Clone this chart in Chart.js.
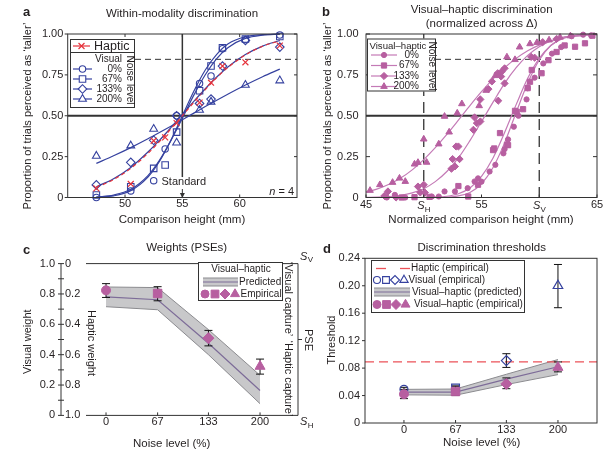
<!DOCTYPE html>
<html>
<head>
<meta charset="utf-8">
<script src="https://cdn.jsdelivr.net/npm/chart.js@4.4.1/dist/chart.umd.min.js"></script>
<style>
  html, body { margin: 0; padding: 0; background: #fff; }
  body { position: relative; width: 614px; height: 453px; overflow: hidden; }
  canvas { position: absolute; }
</style>
</head>
<body>
<canvas id="ca" width="307" height="226" style="left:0;top:0"></canvas>
<canvas id="cb" width="307" height="226" style="left:307px;top:0"></canvas>
<canvas id="cc" width="320" height="227" style="left:0;top:226px"></canvas>
<canvas id="cd" width="307" height="227" style="left:307px;top:226px"></canvas>
<script>
// ---- a: within-modality discrimination ----
const aHeights = [47.5, 50.5, 52.5, 53.5, 54.5, 56.5, 57.5, 58.5, 60.5, 63.5];
const aHaptic  = [0.056, 0.083, 0.347, 0.368, 0.455, 0.58, 0.702, 0.804, 0.827, 0.929];
const aVis0    = [0.0, 0.04, 0.103, 0.297, 0.50, 0.698, 0.743, 0.91, 0.965, 0.994];
const aVis67   = [0.015, 0.066, 0.178, 0.199, 0.40, 0.653, 0.804, 0.916, 0.969, 0.985];
const aVis133  = [0.077, 0.215, 0.35, null, 0.50, 0.575, 0.602, 0.804, 0.96, 0.92];
const aVis200  = [0.254, 0.317, 0.419, null, 0.335, 0.535, 0.585, null, 0.688, 0.715];
// fitted curves
const aFitX    = [47.5, 49, 50.5, 52, 53, 54, 55, 56, 57, 58, 59, 60.5, 62, 63.5];
const aFitHap  = [0.062, 0.11, 0.178, 0.27, 0.342, 0.42, 0.50, 0.582, 0.66, 0.733, 0.797, 0.872, 0.925, 0.958];
const aFitV0   = [0.002, 0.010, 0.042, 0.125, 0.22, 0.35, 0.5, 0.65, 0.78, 0.875, 0.94, 0.983, 0.996, 0.999];
const aFitV67  = [0.003, 0.015, 0.05, 0.134, 0.227, 0.348, 0.485, 0.626, 0.751, 0.85, 0.918, 0.973, 0.993, 0.999];
const aFitV133 = [0.066, 0.115, 0.184, 0.278, 0.349, 0.427, 0.508, 0.588, 0.665, 0.737, 0.80, 0.874, 0.926, 0.96];
const aFitV200 = [0.209, 0.255, 0.305, 0.359, 0.397, 0.436, 0.476, 0.516, 0.556, 0.595, 0.633, 0.688, 0.739, 0.785];
const aStandard = 55;
const aCriterion = 0.845;
const aXTicks = [50, 55, 60];
const aXLabels = ['50', '55', '60'];
const propTicks = [0, 0.25, 0.5, 0.75, 1];
const propLabels = ['0', '0.25', '0.50', '0.75', '1.00'];
const noisePct = ['0%', '67%', '133%', '200%'];

// ---- b: visual-haptic discrimination ----
const bX0 = [46.8, 47.5, 48.4, 50.7, 51.3, 51.8, 52.7, 53.8, 54.4, 54.7, 55.0, 55.7, 56.2, 56.9, 57.0, 57.3, 57.8, 58.2, 58.9, 59.0, 59.6, 60.35, 61.1, 61.9, 62.8, 63.8, 64.5];
const bY0 = [0.0, 0.016, 0.0, 0.006, 0.006, 0.037, 0.037, 0.057, 0.098, 0.117, 0.097, 0.159, 0.20, 0.27, 0.296, 0.355, 0.433, 0.50, 0.60, 0.668, 0.733, 0.82, 0.88, 0.92, 0.986, 0.996, 0.99];
const bX1 = [48.1, 49.2, 50.5, 53.0, 53.85, 54.7, 56.0, 56.1, 56.6, 57.2, 57.3, 57.9, 58.05, 58.6, 59.0, 59.2, 59.35, 60.2, 60.8, 61.5, 62.2, 63.1, 63.96, 64.6];
const bY1 = [0.0, 0.002, 0.004, 0.07, 0.006, 0.078, 0.29, 0.30, 0.394, 0.322, 0.32, 0.53, 0.525, 0.54, 0.669, 0.708, 0.78, 0.76, 0.84, 0.89, 0.93, 0.922, 0.943, 0.99];
const bX2 = [46.6, 46.9, 47.6, 49.5, 49.7, 50.0, 50.1, 52.4, 52.5, 52.7, 52.8, 53.0, 53.1, 54.3, 54.4, 54.6, 54.9, 54.9, 55.6, 55.9, 56.4, 56.45, 56.7, 56.75, 57.0, 57.0, 59.3, 59.6, 60.3, 61.5];
const bY2 = [0.01, 0.037, 0.0, 0.067, 0.031, 0.078, 0.03, 0.176, 0.235, 0.19, 0.312, 0.312, 0.235, 0.414, 0.49, 0.455, 0.465, 0.60, 0.663, 0.71, 0.76, 0.592, 0.74, 0.77, 0.79, 0.698, 0.86, 0.855, 0.95, 0.97];
const bX3 = [45.35, 46.2, 47.3, 47.9, 48.4, 49.2, 49.5, 50.0, 50.25, 51.3, 51.8, 52.2, 52.9, 53.3, 54.8, 55.4, 56.2, 57.2, 57.9, 58.3, 59.2, 59.8, 60.85, 61.8, 62.7];
const bY3 = [0.043, 0.078, 0.092, 0.118, 0.098, 0.204, 0.214, 0.357, 0.215, 0.327, 0.496, 0.40, 0.516, 0.573, 0.561, 0.655, 0.745, 0.859, 0.843, 0.92, 0.94, 0.947, 0.963, 0.98, 0.988];
const bFitX   = [45, 46, 47, 48, 49, 50, 51, 52, 53, 54, 55, 56, 57, 58, 59, 60, 61, 62, 63, 64, 65];
const bFit0   = [0, 0, 0, 0, 0, 0.0001, 0.0005, 0.0025, 0.01, 0.031, 0.084, 0.183, 0.334, 0.52, 0.70, 0.841, 0.93, 0.974, 0.992, 0.998, 1.0];
const bFit67  = [0, 0, 0, 0, 0.0001, 0.0005, 0.002, 0.0075, 0.023, 0.058, 0.129, 0.242, 0.397, 0.568, 0.729, 0.851, 0.93, 0.972, 0.99, 0.997, 0.999];
const bFit133 = [0.001, 0.0024, 0.006, 0.0135, 0.028, 0.054, 0.097, 0.159, 0.242, 0.348, 0.464, 0.583, 0.698, 0.794, 0.869, 0.922, 0.958, 0.979, 0.99, 0.996, 0.998];
const bFit200 = [0.033, 0.053, 0.081, 0.119, 0.169, 0.232, 0.305, 0.386, 0.473, 0.562, 0.647, 0.726, 0.794, 0.851, 0.898, 0.932, 0.956, 0.973, 0.985, 0.991, 0.995];
const bSH = 50, bSV = 60;
const bXTicks = [45, 50, 55, 60, 65];
const bXLabels = ['45', '', '55', '', '65'];

// ---- c: weights (PSEs) ----
const noise = [0, 67, 133, 200];
const noiseLabels = ['0', '67', '133', '200'];
const cEmp    = [0.824, 0.803, 0.509, 0.323];
const cErrLo  = [0.777, 0.755, 0.458, 0.272];
const cErrHi  = [0.868, 0.848, 0.56, 0.371];
const cPred   = [0.781, 0.762, 0.475, 0.164];
const cPredHi = [0.846, 0.842, 0.565, 0.264];
const cPredLo = [0.716, 0.696, 0.40, 0.077];
const cWeightTicks = [0, 0.2, 0.4, 0.6, 0.8, 1.0];
const cVisualLabels = ['0', '0.2', '0.4', '0.6', '0.8', '1.0'];
const cHapticLabels = ['1.0', '0.8', '0.6', '0.4', '0.2', '0'];
const cMinorTicks = [0, 0.1, 0.2, 0.3, 0.4, 0.5, 0.6, 0.7, 0.8, 0.9, 1.0];

// ---- d: discrimination thresholds ----
const dHaptic = 0.089;
const dVis    = [0.049, 0.051, 0.091, 0.20];
const dVisLo  = [0.046, 0.048, 0.081, 0.168];
const dVisHi  = [0.052, 0.054, 0.101, 0.231];
const dVH     = [0.042, 0.046, 0.057, 0.081];
const dVHLo   = [0.0355, 0.040, 0.050, 0.0745];
const dVHHi   = [0.049, 0.0535, 0.0657, 0.089];
const dPred   = [0.045, 0.045, 0.064, 0.082];
const dPredHi = [0.049, 0.0495, 0.071, 0.0925];
const dPredLo = [0.041, 0.0405, 0.056, 0.0705];
const dYTicks = [0, 0.04, 0.08, 0.12, 0.16, 0.20, 0.24];
const dYLabels = ['0', '0.04', '0.08', '0.12', '0.16', '0.20', '0.24'];
const cXRange = [-26, 249.3];
const dXRange = [-50.6, 250.7];

// ---- styles ----
const FONT = "'Liberation Sans', Arial, Helvetica, sans-serif";
const INK = '#231f20', AXIS = '#333333';
const BLUE = '#35419f', RED = '#e5323b', RED_LIGHT = '#ec5258';
const PURPLE = '#b75fa0', PURPLE_LINE = '#c47ab6';
const BAND = '#c8c8ca', BAND_EDGE = '#8b8b8f', BAND_MID = '#7d6c98';
const CLEAR = 'rgba(0,0,0,0)';
const shapes = ['circle', 'rect', 'rectRot', 'triangle'];

Chart.defaults.font.family = FONT;
Chart.defaults.font.size = 11;
Chart.defaults.color = INK;

const OFF = { ca: [0, 0], cb: [307, 0], cc: [0, 226], cd: [307, 226] };

function pts(xs, ys) {
  return xs.map((x, i) => ({ x: x, y: ys[i] })).filter(p => p.y !== null);
}
function markers(xs, ys, style, r, stroke, fill, order, lw) {
  return { data: pts(xs, ys), showLine: false, pointStyle: style, pointRadius: r, pointHoverRadius: r,
    pointBorderColor: stroke, pointBackgroundColor: fill, pointBorderWidth: lw || 1, order: order, clip: false };
}
function fit(xs, ys, color, order, dash) {
  return { data: pts(xs, ys), showLine: true, pointRadius: 0, borderColor: color, borderWidth: 1.2,
    borderDash: dash || [], cubicInterpolationMode: 'monotone', fill: false, order: order, clip: false };
}
function band(xs, mid, hi, lo, first) {
  return [
    { data: pts(xs, mid), pointRadius: 0, borderColor: BAND_MID, borderWidth: 1.2, order: first, fill: false },
    { data: pts(xs, hi), pointRadius: 0, borderColor: BAND_EDGE, borderWidth: 1, order: first + 1, fill: false },
    { data: pts(xs, lo), pointRadius: 0, borderColor: BAND_EDGE, borderWidth: 1, order: first + 2, fill: first + 1, backgroundColor: BAND }
  ];
}

function axes(o) {
  return {
    responsive: false, animation: false, events: [], devicePixelRatio: 1,
    layout: { autoPadding: false, padding: o.pad },
    plugins: { legend: { display: false }, tooltip: { enabled: false } },
    scales: {
      x: { type: 'linear', min: o.x[0], max: o.x[1],
        afterBuildTicks: s => { s.ticks = o.xTicks.map(v => ({ value: v })); },
        afterFit: s => { s.height = o.xh; },
        grid: { display: false, drawTicks: false }, border: { display: false },
        ticks: { padding: o.xpad, autoSkip: false, maxRotation: 0, minRotation: 0, callback: (v, i) => o.xLabels[i] } },
      y: { type: 'linear', min: o.y[0], max: o.y[1],
        afterBuildTicks: s => { s.ticks = o.yTicks.map(v => ({ value: v })); },
        afterFit: s => { s.width = o.yw; },
        grid: { display: false, drawTicks: false }, border: { display: false },
        ticks: { padding: o.ypad, autoSkip: false, callback: (v, i) => o.yLabels[i] } }
    }
  };
}

// drawing helpers, all in page coordinates
function onPage(chart) {
  const [ox, oy] = OFF[chart.canvas.id];
  const ctx = chart.ctx, a = chart.chartArea;
  ctx.save();
  ctx.translate(-ox, -oy);
  return {
    ctx,
    X: v => chart.scales.x.getPixelForValue(v) + ox,
    Y: v => chart.scales.y.getPixelForValue(v) + oy,
    L: a.left + ox, R: a.right + ox, T: a.top + oy, B: a.bottom + oy,
    done: () => ctx.restore()
  };
}
function seg(ctx, x1, y1, x2, y2) {
  ctx.beginPath(); ctx.moveTo(x1, y1); ctx.lineTo(x2, y2); ctx.stroke();
}
function text(ctx, s, x, y, o) {
  o = o || {};
  ctx.save();
  ctx.font = `${o.style || 'normal'} ${o.weight || 'normal'} ${o.size || 11}px ${FONT}`;
  ctx.fillStyle = o.color || INK;
  ctx.textAlign = o.align || 'center';
  ctx.textBaseline = 'middle';
  ctx.translate(x, y);
  if (o.rot) ctx.rotate(o.rot * Math.PI / 180);
  ctx.fillText(s, 0, 0);
  ctx.restore();
}
function subText(ctx, main, sub, x, y, align) {
  ctx.save();
  ctx.font = `italic 11px ${FONT}`;
  const w1 = ctx.measureText(main).width;
  ctx.font = `8px ${FONT}`;
  const w2 = ctx.measureText(sub).width;
  const x0 = align === 'center' ? x - (w1 + w2) / 2 : x;
  ctx.fillStyle = INK; ctx.textAlign = 'left'; ctx.textBaseline = 'middle';
  ctx.font = `italic 11px ${FONT}`; ctx.fillText(main, x0, y);
  ctx.font = `8px ${FONT}`; ctx.fillText(sub, x0 + w1 + 0.3, y + 3.5);
  ctx.restore();
}
function mark(ctx, style, x, y, r, fill, stroke, lw) {
  const h = r * Math.SQRT1_2;
  ctx.save();
  ctx.beginPath();
  if (style === 'circle') ctx.arc(x, y, r, 0, Math.PI * 2);
  else if (style === 'rect') ctx.rect(x - h, y - h, 2 * h, 2 * h);
  else if (style === 'rectRot') { ctx.moveTo(x - r, y); ctx.lineTo(x, y - r); ctx.lineTo(x + r, y); ctx.lineTo(x, y + r); ctx.closePath(); }
  else if (style === 'triangle') {
    for (let k = 0; k < 3; k++) {
      const t = k * 2 * Math.PI / 3, px = x + Math.sin(t) * r, py = y - Math.cos(t) * r;
      if (k) ctx.lineTo(px, py); else ctx.moveTo(px, py);
    }
    ctx.closePath();
  } else if (style === 'crossRot') { ctx.moveTo(x - h, y - h); ctx.lineTo(x + h, y + h); ctx.moveTo(x + h, y - h); ctx.lineTo(x - h, y + h); }
  if (fill && style !== 'crossRot') { ctx.fillStyle = fill; ctx.fill(); }
  ctx.strokeStyle = stroke; ctx.lineWidth = lw || 1; ctx.stroke();
  ctx.restore();
}
function hline(ctx, x1, x2, y, color, lw) {
  ctx.save(); ctx.strokeStyle = color; ctx.lineWidth = lw; seg(ctx, x1, y, x2, y); ctx.restore();
}
function bandSwatch(ctx, x1, x2, y) {
  ctx.save();
  ctx.fillStyle = BAND; ctx.fillRect(x1, y - 4, x2 - x1, 8);
  hline(ctx, x1, x2, y - 4, BAND_EDGE, 1); hline(ctx, x1, x2, y + 4, BAND_EDGE, 1);
  hline(ctx, x1, x2, y, BAND_MID, 1.2);
  ctx.restore();
}
function box(ctx, x, y, w, h) {
  ctx.save(); ctx.fillStyle = '#fff'; ctx.fillRect(x, y, w, h);
  ctx.strokeStyle = AXIS; ctx.lineWidth = 1; ctx.strokeRect(x + 0.5, y + 0.5, w - 1, h - 1); ctx.restore();
}
function errorBars(sets) {
  return {
    id: 'errorBars',
    beforeDatasetDraw(chart, args) {
      sets.forEach(s => {
        if (s.before !== args.index) return;
        const p = onPage(chart), ctx = p.ctx;
        ctx.strokeStyle = '#111'; ctx.lineWidth = 1;
        s.x.forEach((xv, i) => {
          const x = p.X(xv), y1 = p.Y(s.lo[i]), y2 = p.Y(s.hi[i]);
          seg(ctx, x, y1, x, y2); seg(ctx, x - 4, y1, x + 4, y1); seg(ctx, x - 4, y2, x + 4, y2);
        });
        p.done();
      });
    }
  };
}

// ---- panel a ----
const aR = { circle: 3.2, rect: 4.6, rectRot: 4.3, triangle: 4.5, crossRot: 4.2 };
const decoA = {
  id: 'decoA',
  beforeDatasetsDraw(chart) {
    const p = onPage(chart), ctx = p.ctx;
    ctx.strokeStyle = AXIS;
    ctx.lineWidth = 2; seg(ctx, p.L, p.Y(0.5), p.R, p.Y(0.5));
    ctx.lineWidth = 1.5; seg(ctx, p.X(aStandard), p.T, p.X(aStandard), p.Y(0.125));
    ctx.lineWidth = 1; ctx.setLineDash([6, 4]); seg(ctx, 135, p.Y(aCriterion), p.R, p.Y(aCriterion));
    p.done();
  },
  afterDraw(chart) {
    const p = onPage(chart), ctx = p.ctx;
    ctx.strokeStyle = AXIS; ctx.lineWidth = 1;
    ctx.strokeRect(p.L, p.T, p.R - p.L, p.B - p.T);
    propTicks.forEach(v => { const y = p.Y(v); seg(ctx, p.L - 3, y, p.L, y); seg(ctx, p.R - 3, y, p.R, y); });
    aXTicks.forEach(v => { const x = p.X(v); seg(ctx, x, p.B, x, p.B - 3); seg(ctx, x, p.T, x, p.T + 3); });
    const s = p.X(aStandard);
    seg(ctx, s, 189, s, 194);
    ctx.fillStyle = AXIS; ctx.beginPath(); ctx.moveTo(s - 2.5, 193); ctx.lineTo(s + 2.5, 193); ctx.lineTo(s, 198); ctx.closePath(); ctx.fill();
    text(ctx, 'Standard', 161.5, 182, { align: 'left' });
    ctx.font = `11px ${FONT}`;
    const wEq = ctx.measureText(' = 4').width;
    text(ctx, ' = 4', 294, 191.5, { align: 'right' });
    text(ctx, 'n', 294 - wEq, 191.5, { align: 'right', style: 'italic' });
    // legend
    box(ctx, 70, 39, 65, 69);
    hline(ctx, 70, 135, 52.5, AXIS, 1);
    hline(ctx, 73, 90, 46, RED, 1.2);
    mark(ctx, 'crossRot', 81.5, 46, aR.crossRot, null, RED, 1.2);
    text(ctx, 'Haptic', 94, 46.5, { size: 12.5, align: 'left' });
    text(ctx, 'Visual', 122, 59.5, { size: 10, align: 'right' });
    shapes.forEach((st, i) => {
      const y = 69 + i * 10;
      hline(ctx, 73, 92, y, BLUE, 1.2);
      mark(ctx, st, 82.5, y, aR[st], '#fff', BLUE, 1.1);
      text(ctx, noisePct[i], 122, y, { size: 10, align: 'right' });
    });
    text(ctx, 'Noise level', 129.5, 80, { size: 10, rot: 90 });
    // titles
    text(ctx, 'a', 23, 12.5, { size: 13, weight: 'bold', align: 'left' });
    text(ctx, 'Within-modality discrimination', 182, 14, { size: 11.5 });
    text(ctx, 'Proportion of trials perceived as \u2018taller\u2019', 28, 116, { rot: -90 });
    text(ctx, 'Comparison height (mm)', 182, 219.5, { size: 11.5 });
    p.done();
  }
};
new Chart(document.getElementById('ca'), {
  type: 'line',
  data: { datasets: [
    markers(aHeights, aHaptic, 'crossRot', aR.crossRot, RED, CLEAR, 0, 1.2),
    markers(aHeights, aVis0, 'circle', aR.circle, BLUE, CLEAR, 0, 1.1),
    markers(aHeights, aVis67, 'rect', aR.rect, BLUE, CLEAR, 0, 1.1),
    markers(aHeights, aVis133, 'rectRot', aR.rectRot, BLUE, CLEAR, 0, 1.1),
    markers(aHeights, aVis200, 'triangle', aR.triangle, BLUE, CLEAR, 0, 1.1),
    fit(aFitX, aFitHap, RED, 1, [4, 3]),
    fit(aFitX, aFitV0, BLUE, 2), fit(aFitX, aFitV67, BLUE, 2),
    fit(aFitX, aFitV133, BLUE, 2), fit(aFitX, aFitV200, BLUE, 2)
  ]},
  options: axes({ pad: { left: 0, right: 10, top: 34, bottom: 0 }, x: [45, 65], xTicks: aXTicks, xLabels: aXLabels, xh: 28.5, xpad: 0,
    y: [0, 1], yTicks: propTicks, yLabels: propLabels, yw: 67.7, ypad: 4.4 }),
  plugins: [decoA]
});

// ---- panel b ----
const bR = { circle: 2.6, rect: 3.7, rectRot: 3.6, triangle: 3.8 };
const decoB = {
  id: 'decoB',
  beforeDatasetsDraw(chart) {
    const p = onPage(chart), ctx = p.ctx;
    ctx.strokeStyle = AXIS;
    ctx.lineWidth = 2; seg(ctx, p.L, p.Y(0.5), p.R, p.Y(0.5));
    ctx.lineWidth = 1; ctx.setLineDash([6, 4]); seg(ctx, 435, p.Y(aCriterion), p.R, p.Y(aCriterion));
    ctx.lineWidth = 1.3; ctx.setLineDash([11, 6]);
    [bSH, bSV].forEach(v => seg(ctx, p.X(v), p.T, p.X(v), p.B));
    p.done();
  },
  afterDraw(chart) {
    const p = onPage(chart), ctx = p.ctx;
    ctx.strokeStyle = AXIS; ctx.lineWidth = 1;
    ctx.strokeRect(p.L, p.T, p.R - p.L, p.B - p.T);
    propTicks.forEach(v => { const y = p.Y(v); seg(ctx, p.L, y, p.L + 4, y); seg(ctx, p.R - 4, y, p.R, y); });
    bXTicks.forEach(v => { const x = p.X(v); seg(ctx, x, p.B, x, p.B - 3); });
    subText(ctx, 'S', 'H', p.X(bSH), 206, 'center');
    subText(ctx, 'S', 'V', p.X(bSV), 206, 'center');
    // legend
    box(ctx, 367, 38.5, 69, 53);
    text(ctx, 'Visual\u2013haptic', 369.5, 46, { size: 9.6, align: 'left' });
    [55, 65.5, 76, 86.5].forEach((y, i) => {
      hline(ctx, 371, 397, y, PURPLE_LINE, 1.2);
      mark(ctx, shapes[i], 384, y, bR[shapes[i]], PURPLE, PURPLE, 1);
      text(ctx, noisePct[i], 419, y, { size: 10, align: 'right' });
    });
    text(ctx, 'Noise level', 431.5, 66, { size: 10, rot: 90 });
    // titles
    text(ctx, 'b', 322, 12, { size: 13, weight: 'bold', align: 'left' });
    text(ctx, 'Visual\u2013haptic discrimination', 481.7, 10, { size: 11.5 });
    text(ctx, '(normalized across \u0394)', 481.7, 24, { size: 11.5 });
    text(ctx, 'Proportion of trials perceived as \u2018taller\u2019', 327.5, 116, { rot: -90 });
    text(ctx, 'Normalized comparison height (mm)', 481, 219.5, { size: 11.5 });
    p.done();
  }
};
new Chart(document.getElementById('cb'), {
  type: 'line',
  data: { datasets: [
    markers(bX0, bY0, 'circle', bR.circle, PURPLE, PURPLE, 1),
    markers(bX1, bY1, 'rect', bR.rect, PURPLE, PURPLE, 1),
    markers(bX2, bY2, 'rectRot', bR.rectRot, PURPLE, PURPLE, 1),
    markers(bX3, bY3, 'triangle', bR.triangle, PURPLE, PURPLE, 1),
    fit(bFitX, bFit0, PURPLE_LINE, 2), fit(bFitX, bFit67, PURPLE_LINE, 2),
    fit(bFitX, bFit133, PURPLE_LINE, 2), fit(bFitX, bFit200, PURPLE_LINE, 2)
  ]},
  options: axes({ pad: { left: 0, right: 17, top: 34, bottom: 0 }, x: [45, 65], xTicks: bXTicks, xLabels: bXLabels, xh: 28.5, xpad: 1,
    y: [0, 1], yTicks: propTicks, yLabels: propLabels, yw: 59, ypad: 7.5 }),
  plugins: [decoB]
});

// ---- panel c ----
const empR = [4.5, 6, 5.5, 5.8];
const legR = { circle: 4, rect: 5.5, rectRot: 5, triangle: 5.2 };
const cAxisX = 61;
const decoC = {
  id: 'decoC',
  afterDraw(chart) {
    const p = onPage(chart), ctx = p.ctx;
    ctx.strokeStyle = AXIS; ctx.lineWidth = 1;
    seg(ctx, p.L, p.T, p.R, p.T); seg(ctx, p.L, p.B, p.R, p.B); seg(ctx, p.R, p.T, p.R, p.B);
    seg(ctx, p.R, p.Y(0.5), p.R + 4, p.Y(0.5));
    noise.forEach(v => seg(ctx, p.X(v), p.B, p.X(v), p.B - 3));
    seg(ctx, cAxisX, p.Y(1), cAxisX, p.Y(0));
    cMinorTicks.forEach(v => seg(ctx, cAxisX - 3, p.Y(v), cAxisX + 3, p.Y(v)));
    cWeightTicks.forEach((v, i) => text(ctx, cHapticLabels[i], cAxisX + 4, p.Y(v), { align: 'left' }));
    subText(ctx, 'S', 'V', 300, 256.5, 'left');
    subText(ctx, 'S', 'H', 300, 422, 'left');
    text(ctx, 'PSE', 308, 340, { rot: 90 });
    text(ctx, '\u2018Visual capture\u2019', 288, 299, { rot: 90 });
    text(ctx, '\u2018Haptic capture\u2019', 288, 378.5, { rot: 90 });
    // legend
    box(ctx, 198, 262, 85, 39);
    text(ctx, 'Visual\u2013haptic', 241, 269, { size: 10 });
    bandSwatch(ctx, 203, 238, 282);
    text(ctx, 'Predicted', 239, 282, { size: 10, align: 'left' });
    shapes.forEach((st, i) => mark(ctx, st, 205 + i * 10, 294, legR[st], PURPLE, PURPLE, 1));
    text(ctx, 'Empirical', 240.5, 294, { size: 10, align: 'left' });
    // titles
    text(ctx, 'c', 23, 250, { size: 13, weight: 'bold', align: 'left' });
    text(ctx, 'Weights (PSEs)', 186.7, 248.3, { size: 11.5 });
    text(ctx, 'Visual weight', 28, 341.7, { rot: -90 });
    text(ctx, 'Haptic weight', 91, 343, { rot: 90 });
    text(ctx, 'Noise level (%)', 171.7, 444, { size: 11.5 });
    p.done();
  }
};
new Chart(document.getElementById('cc'), {
  type: 'line',
  data: { datasets: [
    { data: pts(noise, cEmp), showLine: false, pointStyle: shapes, pointRadius: empR, pointBackgroundColor: PURPLE,
      pointBorderColor: PURPLE, pointBorderWidth: 1, order: 0, clip: false },
    ...band(noise, cPred, cPredHi, cPredLo, 1)
  ]},
  options: axes({ pad: { left: 0, right: 22, top: 32.3, bottom: 0 }, x: cXRange, xTicks: noise, xLabels: noiseLabels, xh: 30, xpad: 0,
    y: [0, 1], yTicks: cWeightTicks, yLabels: cVisualLabels, yw: 86, ypad: 31 }),
  plugins: [decoC, errorBars([{ before: 0, x: noise, lo: cErrLo, hi: cErrHi }])]
});

// ---- panel d ----
const openR = [4, 5.5, 5, 5.5];
const decoD = {
  id: 'decoD',
  afterDraw(chart) {
    const p = onPage(chart), ctx = p.ctx;
    ctx.strokeStyle = AXIS; ctx.lineWidth = 1;
    ctx.strokeRect(p.L, p.T, p.R - p.L, p.B - p.T);
    dYTicks.forEach(v => { const y = p.Y(v); seg(ctx, p.L - 3, y, p.L, y); });
    noise.forEach(v => seg(ctx, p.X(v), p.B, p.X(v), p.B - 3));
    // legend
    box(ctx, 371, 260, 154, 53);
    hline(ctx, 376, 386, 268.5, RED_LIGHT, 1.3); hline(ctx, 400, 410, 268.5, RED_LIGHT, 1.3);
    text(ctx, 'Haptic (empirical)', 411, 268.5, { size: 10, align: 'left' });
    shapes.forEach((st, i) => mark(ctx, st, 377 + i * 9, 280, [3.5, 4.8, 4.5, 4.8][i], null, BLUE, 1.1));
    text(ctx, 'Visual (empirical)', 408.5, 280, { size: 10, align: 'left' });
    bandSwatch(ctx, 374, 410, 292);
    text(ctx, 'Visual\u2013haptic (predicted)', 412, 292, { size: 10, align: 'left' });
    shapes.forEach((st, i) => mark(ctx, st, 377 + i * 9.5, 304.5, legR[st], PURPLE, PURPLE, 1));
    text(ctx, 'Visual\u2013haptic (empirical)', 414, 304.5, { size: 10, align: 'left' });
    // titles
    text(ctx, 'd', 323, 249, { size: 13, weight: 'bold', align: 'left' });
    text(ctx, 'Discrimination thresholds', 481.7, 247.7, { size: 11.5 });
    text(ctx, 'Threshold', 331.7, 340, { rot: -90 });
    text(ctx, 'Noise level (%)', 481.7, 443.3, { size: 11.5 });
    p.done();
  }
};
new Chart(document.getElementById('cd'), {
  type: 'line',
  data: { datasets: [
    { data: pts(noise, dVH), showLine: false, pointStyle: shapes, pointRadius: empR, pointBackgroundColor: PURPLE,
      pointBorderColor: PURPLE, pointBorderWidth: 1, order: 0, clip: false },
    { data: pts(noise, dVis), showLine: false, pointStyle: shapes, pointRadius: openR, pointBackgroundColor: CLEAR,
      pointBorderColor: BLUE, pointBorderWidth: 1.2, order: 1, clip: false },
    { data: pts(dXRange, [dHaptic, dHaptic]), pointRadius: 0, borderColor: RED_LIGHT, borderWidth: 1.3,
      borderDash: [9, 5], fill: false, order: 2 },
    ...band(noise, dPred, dPredHi, dPredLo, 3)
  ]},
  options: axes({ pad: { left: 0, right: 17, top: 32.3, bottom: 0 }, x: dXRange, xTicks: noise, xLabels: noiseLabels, xh: 30, xpad: 0,
    y: [0, 0.24], yTicks: dYTicks, yLabels: dYLabels, yw: 58, ypad: 5 }),
  plugins: [decoD, errorBars([{ before: 1, x: noise, lo: dVisLo, hi: dVisHi }, { before: 1, x: noise, lo: dVHLo, hi: dVHHi }])]
});
</script>
</body>
</html>
